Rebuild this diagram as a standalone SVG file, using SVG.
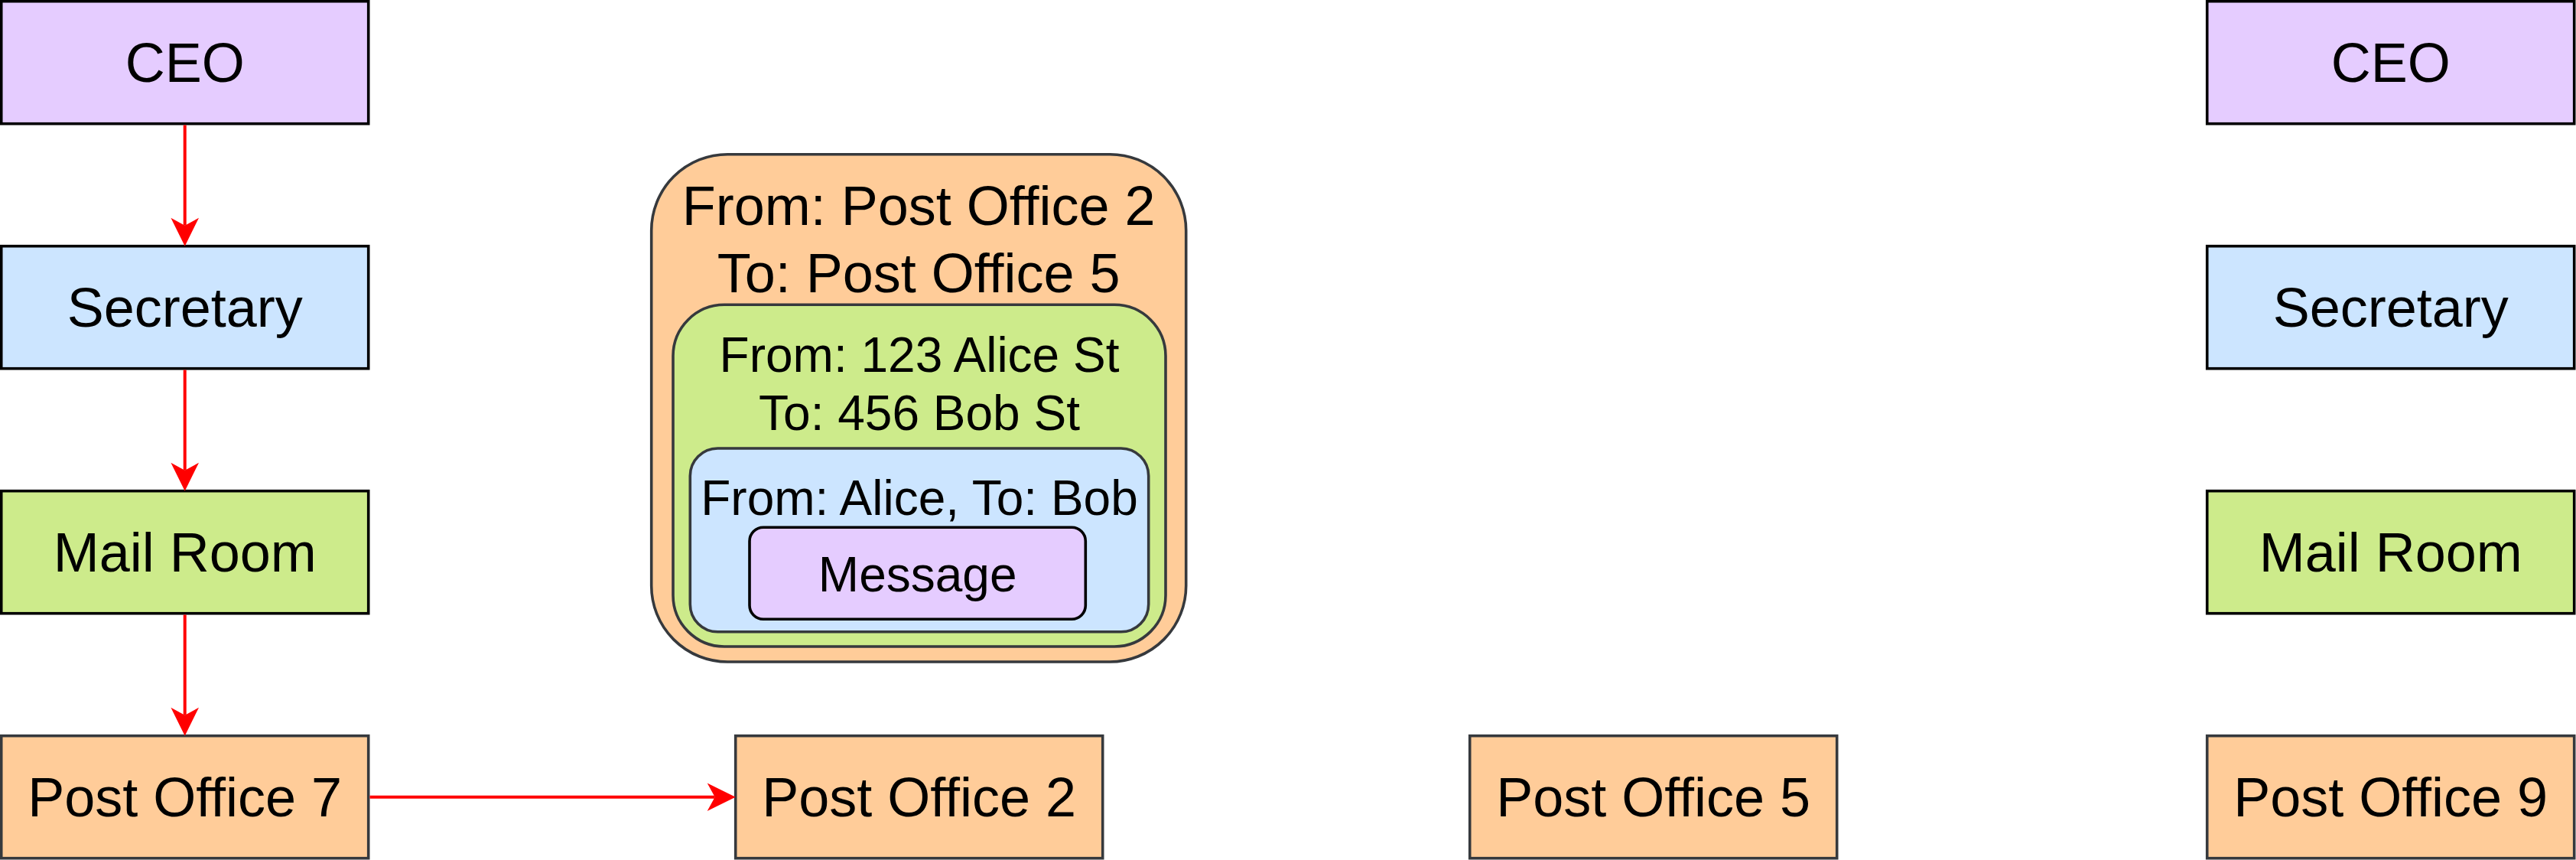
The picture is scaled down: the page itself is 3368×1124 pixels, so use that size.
<svg xmlns="http://www.w3.org/2000/svg" width="3368" height="1124" viewBox="0 0 3368 1124">
  <style>
    .t { font-family: "Liberation Sans", Arial, sans-serif; text-anchor: middle; fill: #000000; }
    .big { font-size: 72px; }
    .small { font-size: 64px; }
    .box { stroke-width: 3.6; }
    .blk { stroke: #000000; }
    .gry { stroke: #36393d; }
    .purple { fill: #E5CCFF; }
    .blue { fill: #CCE5FF; }
    .green { fill: #CDEB8B; }
    .orange { fill: #FFCC99; }
    .edge { stroke: #FF0000; stroke-width: 4; fill: none; marker-end: url(#arrow); }
  </style>
  <defs>
    <marker id="arrow" markerUnits="userSpaceOnUse" markerWidth="40" markerHeight="40" refX="10" refY="20" orient="auto" overflow="visible">
      <path d="M37,20 L0,1.7 L10,20 L0,38.3 Z" fill="#FF0000"/>
    </marker>
  </defs>

  <rect width="3368" height="1124" fill="#FFFFFF"/>

  <!-- Left column -->
  <g id="ceo-left">
    <rect class="box blk purple" x="1.7" y="1.7" width="480" height="160"/>
    <text class="t big" x="241.7" y="106.7">CEO</text>
  </g>
  <g id="secretary-left">
    <rect class="box blk blue" x="1.7" y="321.7" width="480" height="160"/>
    <text class="t big" x="241.7" y="426.7">Secretary</text>
  </g>
  <g id="mailroom-left">
    <rect class="box blk green" x="1.7" y="641.7" width="480" height="160"/>
    <text class="t big" x="241.7" y="746.7">Mail Room</text>
  </g>
  <g id="postoffice-7">
    <rect class="box gry orange" x="1.7" y="961.7" width="480" height="160"/>
    <text class="t big" x="241.7" y="1066.7">Post Office 7</text>
  </g>

  <!-- Envelope -->
  <g id="envelope">
    <rect class="box gry orange" x="851.7" y="201.7" width="699" height="663.3" rx="99.5" ry="99.5"/>
    <text class="t big" x="1201.2" y="294">From: Post Office 2</text>
    <text class="t big" x="1201.2" y="382.3">To: Post Office 5</text>
    <g id="envelope-street">
      <rect class="box gry green" x="880" y="398.3" width="644" height="446.7" rx="67" ry="67"/>
      <text class="t small" x="1202" y="486">From: 123 Alice St</text>
      <text class="t small" x="1202" y="562.3">To: 456 Bob St</text>
    </g>
    <g id="envelope-person">
      <rect class="box gry blue" x="902.3" y="586" width="599.4" height="239.7" rx="36" ry="36"/>
      <text class="t small" x="1202" y="673.3">From: Alice, To: Bob</text>
    </g>
    <g id="message">
      <rect class="box blk purple" x="980" y="689.3" width="439.3" height="120" rx="18" ry="18"/>
      <text class="t small" x="1199.7" y="772.5">Message</text>
    </g>
  </g>

  <!-- Middle post offices -->
  <g id="postoffice-2">
    <rect class="box gry orange" x="961.7" y="961.7" width="480" height="160"/>
    <text class="t big" x="1201.7" y="1066.7">Post Office 2</text>
  </g>
  <g id="postoffice-5">
    <rect class="box gry orange" x="1921.7" y="961.7" width="480" height="160"/>
    <text class="t big" x="2161.7" y="1066.7">Post Office 5</text>
  </g>

  <!-- Right column -->
  <g id="ceo-right">
    <rect class="box blk purple" x="2885.7" y="1.7" width="480" height="160"/>
    <text class="t big" x="3125.7" y="106.7">CEO</text>
  </g>
  <g id="secretary-right">
    <rect class="box blk blue" x="2885.7" y="321.7" width="480" height="160"/>
    <text class="t big" x="3125.7" y="426.7">Secretary</text>
  </g>
  <g id="mailroom-right">
    <rect class="box blk green" x="2885.7" y="641.7" width="480" height="160"/>
    <text class="t big" x="3125.7" y="746.7">Mail Room</text>
  </g>
  <g id="postoffice-9">
    <rect class="box gry orange" x="2885.7" y="961.7" width="480" height="160"/>
    <text class="t big" x="3125.7" y="1066.7">Post Office 9</text>
  </g>

  <!-- Connectors -->
  <g id="connectors">
    <path class="edge" d="M241.7,163.5 L241.7,294.7"/>
    <path class="edge" d="M241.7,483.5 L241.7,614.7"/>
    <path class="edge" d="M241.7,803.5 L241.7,934.7"/>
    <path class="edge" d="M483.5,1041.7 L934.7,1041.7"/>
  </g>
</svg>
